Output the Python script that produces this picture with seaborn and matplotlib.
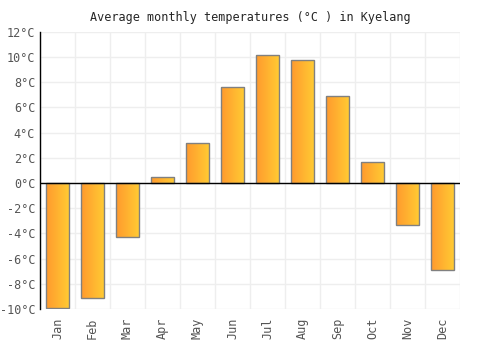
import matplotlib
matplotlib.use("Agg")
import matplotlib.pyplot as plt
from matplotlib.colors import LinearSegmentedColormap
import seaborn as sns
import pandas as pd
import numpy as np

months = ["Jan", "Feb", "Mar", "Apr", "May", "Jun", "Jul", "Aug", "Sep", "Oct", "Nov", "Dec"]
temps = [-9.9, -9.1, -4.3, 0.5, 3.2, 7.6, 10.2, 9.8, 6.9, 1.7, -3.3, -6.9]
yticks = list(range(-10, 13, 2))

df = pd.DataFrame({"month": months, "temp": temps})

sns.set_style("white")
plt.rcParams['font.family'] = ['DejaVu Sans Mono']

fig = plt.figure(figsize=(5, 3.5), dpi=100)
ax = fig.add_axes([0.08, 0.117, 0.84, 0.792])

sns.barplot(data=df, x="month", y="temp", ax=ax, width=0.66,
            color="#ffaa33", edgecolor="#808080", linewidth=1, zorder=3)

# orange -> yellow gradient inside each bar
cmap = LinearSegmentedColormap.from_list("og", ["#ff9a2e", "#ffcc33"])
grad = np.linspace(0, 1, 64).reshape(1, -1)
for p in ax.patches:
    x0, y0 = p.get_x(), p.get_y()
    w, h = p.get_width(), p.get_height()
    im = ax.imshow(grad, cmap=cmap, aspect="auto", zorder=3.5,
                   extent=[x0, x0 + w, min(y0, y0 + h), max(y0, y0 + h)])
    im.set_clip_path(p)
    p.set_facecolor("none")
    p.set_zorder(4)

ax.set_xlim(-0.5, 11.5)
ax.set_ylim(-10, 12)
ax.set_yticks(yticks)
ax.set_yticklabels([f"{t}°C" for t in yticks])
ax.set_xticks(range(len(months)))
ax.set_xticklabels(months, rotation=90)

ax.set_xticks(np.arange(-0.5, 12, 1), minor=True)
ax.grid(which="minor", axis="x", color="#eeeeee", linewidth=1, zorder=0)
ax.grid(which="major", axis="y", color="#eeeeee", linewidth=1, zorder=0)
ax.grid(which="major", axis="x", visible=False)
ax.tick_params(which="both", length=0, labelsize=8.5, labelcolor="#555555")
ax.tick_params(axis="x", pad=6)

ax.axhline(0, color="black", linewidth=1, zorder=5)
for s in ["top", "right", "bottom"]:
    ax.spines[s].set_visible(False)
ax.spines["left"].set_color("black")
ax.spines["left"].set_linewidth(1)

ax.set_xlabel("")
ax.set_ylabel("")
ax.set_title("Average monthly temperatures (°C ) in Kyelang", fontsize=8.5, pad=8)

fig.savefig("out.png", dpi=100)
